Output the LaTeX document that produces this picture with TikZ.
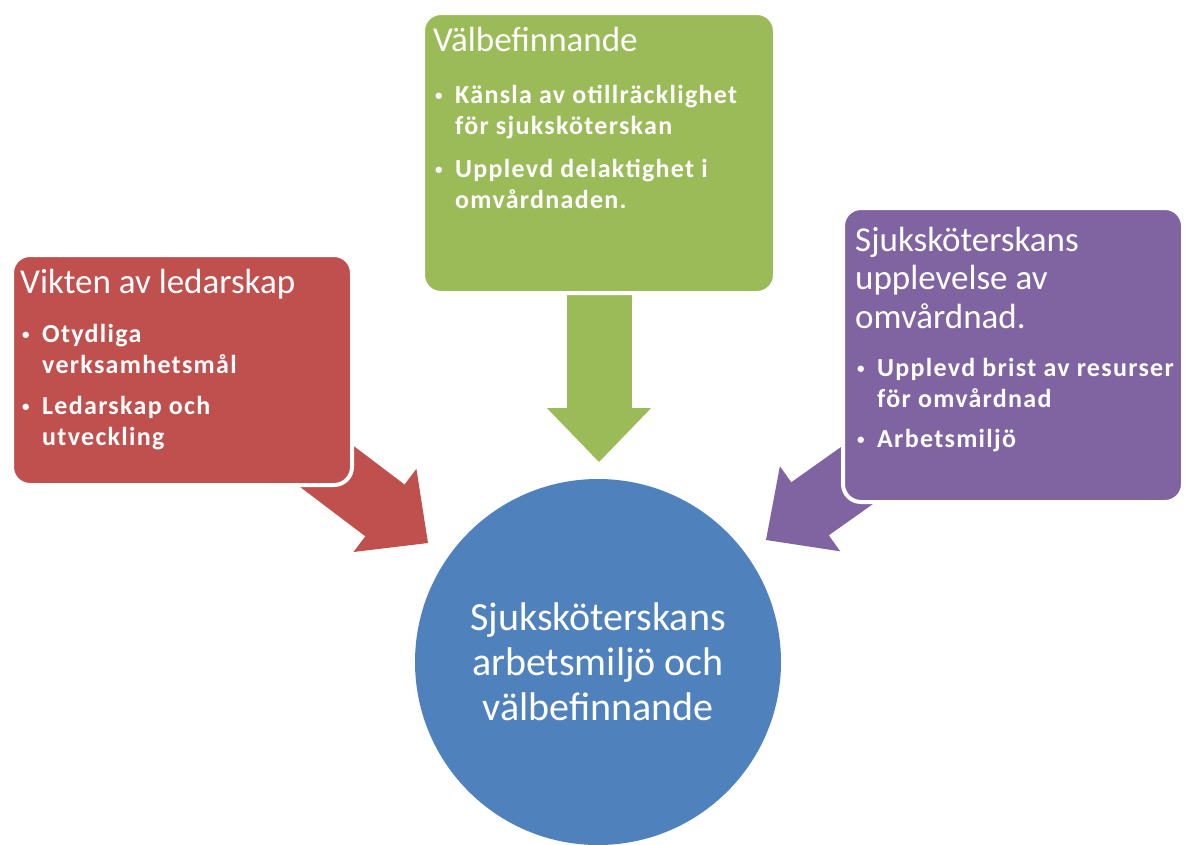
\documentclass[tikz,border=0pt]{standalone}
\usepackage{fontspec}
\setmainfont{Carlito}
\newfontfamily\itemfont[LetterSpace=5]{Carlito}
\usetikzlibrary{
  positioning,
  arrows.meta,
  calc,
  backgrounds
}
\definecolor{lead}{HTML}{C0504D}
\definecolor{wellbeing}{HTML}{9BBB59}
\definecolor{nursing}{HTML}{8064A2}
\definecolor{hub}{HTML}{4F81BD}
\newcommand{\bul}{\makebox[22pt][l]{\hspace{2pt}\raisebox{3pt}{\fontsize{15}{15}\selectfont\textbullet}}}
\newcommand{\ind}{\hspace*{22pt}}
\newcommand{\ttl}[1]{{\rmfamily\mdseries\fontsize{35}{37}\selectfont #1}}

\begin{document}
\begin{tikzpicture}[x=1pt, y=-1pt,
  box/.style={draw=white, line width=4pt, rounded corners=18pt, inner sep=0pt},
  txt/.style={inner sep=0pt, align=left, text=white,
              font=\itemfont\bfseries\fontsize{26}{31}\selectfont},
  blk/.style={line width=65pt, -{Triangle[length=54pt, width=104pt, line width=1.5pt]}}
]
  \useasboundingbox (0,0) rectangle (1186,844);

  % boxes
  \node[box, fill=lead, minimum width=340pt, minimum height=230pt] (red) at (182,370) {};
  \node[box, fill=wellbeing, minimum width=352pt, minimum height=280pt] (green) at (599,153) {};
  \node[box, fill=nursing, minimum width=340pt, minimum height=294pt] (purple) at (1013,355) {};

  \node[txt, below right=16pt and 10pt of red.north west] (redtxt) {
    \ttl{Vikten av ledarskap}\\[18pt]
    \bul Otydliga\\
    \ind verksamhetsmål\\[10pt]
    \bul Ledarskap och\\
    \ind utveckling
  };

  \node[txt, below right=16pt and 12pt of green.north west] (greentxt) {
    \ttl{Välbefinnande}\\[21pt]
    \bul Känsla av otillräcklighet\\
    \ind för sjuksköterskan\\[12pt]
    \bul Upplevd delaktighet i\\
    \ind omvårdnaden.
  };

  \node[txt, below right=21pt and 14pt of purple.north west] (purpletxt) {
    \ttl{Sjuksköterskans}\\[7pt]
    \ttl{upplevelse av}\\[8pt]
    \ttl{omvårdnad.}\\[17pt]
    \bul Upplevd brist av resurser\\
    \ind för omvårdnad\\[9pt]
    \bul Arbetsmiljö
  };

  % centre
  \node[circle, fill=hub, minimum size=366pt, inner sep=0pt, align=center, text=white,
        font=\fontsize{40}{45}\selectfont] (hub) at (598,662)
    {Sjuksköterskans\\arbetsmiljö och\\välbefinnande};

  \coordinate (redtip) at (428,543);
  \coordinate (greentip) at (599,462);
  \coordinate (purpletip) at (766,540);

  \begin{scope}[on background layer]
    \draw[blk, lead, shorten <=-70pt] (red.south east) -- (redtip);
    \draw[blk, wellbeing, shorten <=-20pt] (green.south) -- (greentip);
    \draw[blk, nursing, shorten <=-70pt] ($(purple.south west)+(4,-20)$) -- (purpletip);
  \end{scope}
\end{tikzpicture}
\end{document}
